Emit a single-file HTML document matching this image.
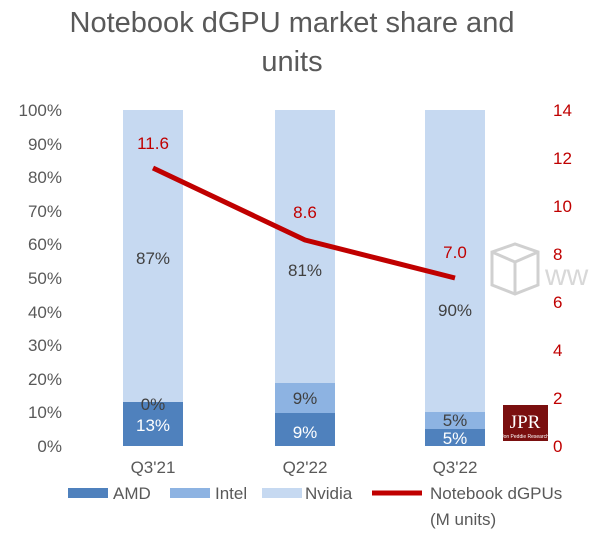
<!DOCTYPE html>
<html><head><meta charset="utf-8"><style>
html,body{margin:0;padding:0;background:#fff;}
svg{display:block;font-family:"Liberation Sans",sans-serif;}
</style></head><body>
<svg width="600" height="534" viewBox="0 0 600 534">
<text x="292" y="32" text-anchor="middle" font-size="29" fill="#595959">Notebook dGPU market share and</text>
<text x="292" y="71" text-anchor="middle" font-size="29" fill="#595959">units</text>
<g font-size="17" fill="#595959" text-anchor="end">
<text x="62" y="116">100%</text><text x="62" y="150">90%</text><text x="62" y="183">80%</text>
<text x="62" y="217">70%</text><text x="62" y="250">60%</text><text x="62" y="284">50%</text>
<text x="62" y="318">40%</text><text x="62" y="351">30%</text><text x="62" y="385">20%</text>
<text x="62" y="418">10%</text><text x="62" y="452">0%</text>
</g>
<g font-size="17" fill="#c00000" text-anchor="start">
<text x="553" y="116">14</text><text x="553" y="164">12</text><text x="553" y="212">10</text>
<text x="553" y="260">8</text><text x="553" y="308">6</text><text x="553" y="356">4</text>
<text x="553" y="404">2</text><text x="553" y="452">0</text>
</g>
<rect x="123" y="110" width="60" height="292" fill="#c6d9f1"/>
<rect x="123" y="402" width="60" height="44" fill="#4f81bd"/>
<rect x="275" y="110" width="60" height="273" fill="#c6d9f1"/>
<rect x="275" y="383" width="60" height="30" fill="#8db3e2"/>
<rect x="275" y="413" width="60" height="33" fill="#4f81bd"/>
<rect x="425" y="110" width="60" height="302" fill="#c6d9f1"/>
<rect x="425" y="412" width="60" height="17" fill="#8db3e2"/>
<rect x="425" y="429" width="60" height="17" fill="#4f81bd"/>
<g opacity="0.45" fill="none" stroke="#999" stroke-width="3">
<path d="M492 252 L515 244 L538 252 L538 285 L515 294 L492 285 Z"/>
<path d="M492 252 L515 262 L538 252 M515 262 L515 294"/>
<text x="545" y="285" font-size="30" fill="#aaa" stroke="none">ww</text>
</g>
<polyline points="153,168 305,240 455,278" fill="none" stroke="#c00000" stroke-width="5" stroke-linejoin="round"/>
<g font-size="17" text-anchor="middle" fill="#c00000">
<text x="153" y="149">11.6</text><text x="305" y="218">8.6</text><text x="455" y="258">7.0</text>
</g>
<g font-size="17" text-anchor="middle" fill="#404040">
<text x="153" y="264">87%</text><text x="305" y="276">81%</text><text x="455" y="316">90%</text>
<text x="153" y="410">0%</text>
<text x="305" y="404">9%</text><text x="455" y="426">5%</text>
</g>
<g font-size="17" text-anchor="middle" fill="#fff">
<text x="153" y="431">13%</text><text x="305" y="438">9%</text><text x="455" y="444">5%</text>
</g>
<rect x="503" y="405" width="45" height="36" fill="#7a0f0f"/>
<text x="525" y="428" font-family="Liberation Serif,serif" font-size="19" fill="#fff" text-anchor="middle">JPR</text>
<text x="525" y="438" font-size="5" fill="#fff" text-anchor="middle">Jon Peddie Research</text>
<g font-size="17" text-anchor="middle" fill="#595959">
<text x="153" y="473">Q3'21</text><text x="305" y="473">Q2'22</text><text x="455" y="473">Q3'22</text>
</g>
<rect x="68" y="488" width="40" height="10" fill="#4f81bd"/>
<text x="113" y="499" font-size="17" fill="#595959">AMD</text>
<rect x="170" y="488" width="40" height="10" fill="#8db3e2"/>
<text x="215" y="499" font-size="17" fill="#595959">Intel</text>
<rect x="262" y="488" width="40" height="10" fill="#c6d9f1"/>
<text x="305" y="499" font-size="17" fill="#595959">Nvidia</text>
<line x1="372" y1="493" x2="422" y2="493" stroke="#c00000" stroke-width="5"/>
<text x="430" y="499" font-size="17" fill="#595959">Notebook dGPUs</text>
<text x="430" y="525" font-size="17" fill="#595959">(M units)</text>
</svg>
</body></html>
